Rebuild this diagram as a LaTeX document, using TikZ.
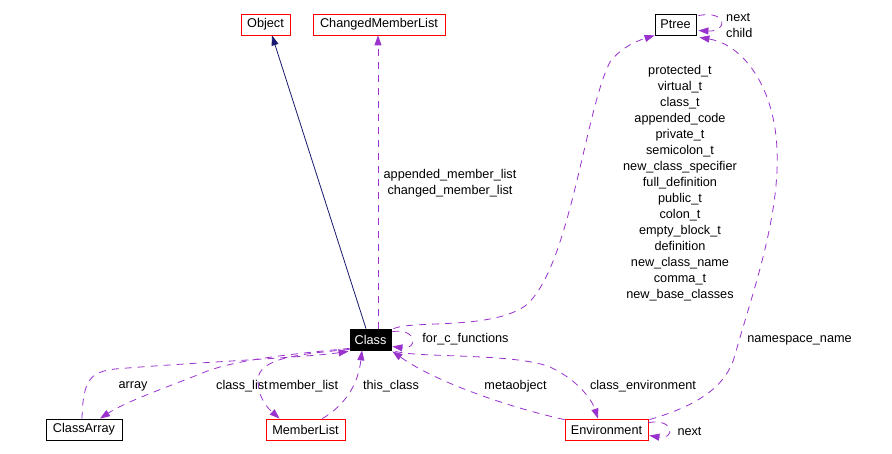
\documentclass[tikz,border=0pt]{standalone}
\usepackage{fontspec}
\setmainfont{Liberation Sans}
\usetikzlibrary{arrows.meta,calc}
\definecolor{edgepurple}{HTML}{9A32CD}
\definecolor{inhblue}{HTML}{191970}
\definecolor{boxred}{HTML}{FF0000}
\begin{document}
\begin{tikzpicture}[x=1pt,y=-1pt,
  every node/.style={font=\fontsize{12.7pt}{16pt}\selectfont, inner sep=0pt},
  box/.style={draw, line width=0.8pt, minimum height=21pt, align=center},
  redbox/.style={box, draw=boxred},
  blackbox/.style={box, draw=black},
  use/.style={draw=edgepurple, line width=0.8pt, dash pattern=on 7pt off 6pt, -{Triangle[length=10pt,width=7pt]}},
  inh/.style={draw=inhblue, line width=0.8pt, -{Triangle[length=10pt,width=7pt]}},
  lbl/.style={align=center, text=black}]
\fill[white] (0,0) rectangle (892,454);
\useasboundingbox (0,0) rectangle (892,454);

% nodes
\node[redbox, minimum width=49pt] (obj) at (265.5,24.5) {Object};
\node[redbox, minimum width=132pt] (cml) at (379,24.5) {ChangedMemberList};
\node[blackbox, minimum width=41pt] (ptree) at (675.5,24.5) {Ptree};
\node[box, draw=black, fill=black, text=white, minimum width=41pt] (cls) at (370.5,339.5) {Class};
\node[blackbox, minimum width=76pt] (carr) at (84,429.5) {ClassArray};
\node[redbox, minimum width=79pt] (ml) at (305.5,429.5) {MemberList};
\node[redbox, minimum width=83pt] (env) at (606.5,429.5) {Environment};

% inheritance
\draw[inh] ($(cls.north)+(-4.5,0)$) -- ($(obj.south)+(6.5,0)$);

% Class -> ChangedMemberList
\draw[use] ($(cls.north)+(7.5,0)$) -- ($(cml.south)+(-1,0)$);
\node[lbl] (lcml) at (450,183) {appended\_member\_list\\changed\_member\_list};

% Class -> Ptree
\draw[use] ($(cls.north east)+(2,0)$) .. controls (415,320) and (490,330) .. (525,306)
  .. controls (570,270) and (585,110) .. (610,62)
  .. controls (622,46) and (640,40) .. (ptree.south west);
\node[lbl] (lptree) at (680,183) {protected\_t\\virtual\_t\\class\_t\\appended\_code\\private\_t\\semicolon\_t\\new\_class\_specifier\\full\_definition\\public\_t\\colon\_t\\empty\_block\_t\\definition\\new\_class\_name\\comma\_t\\new\_base\_classes};

% Ptree self loop
\draw[use] ($(ptree.north east)+(2,2)$) .. controls (728,10) and (728,32) .. ($(ptree.east)+(2,6)$);
\node[lbl, align=left, anchor=west] (lnext) at (726,25) {next\\child};

% Environment -> Ptree
\draw[use] ($(env.north east)+(1,1)$) .. controls (700,405) and (727,385) .. (735,355)
  .. controls (750,300) and (780,220) .. (777,150)
  .. controls (775,90) and (745,45) .. ($(ptree.south east)+(3,2)$);
\node[lbl] (lns) at (799.5,340) {namespace\_name};

% Class self loop
\draw[use] ($(cls.north east)+(1,3)$) .. controls (418,328) and (418,350) .. ($(cls.east)+(1,7)$);
\node[lbl] (lfc) at (465.5,339) {for\_c\_functions};

% ClassArray -> Class
\draw[use] ($(carr.north)+(-2,0)$) .. controls (83,380) and (90,372) .. (115,369)
  .. controls (200,362) and (300,358) .. ($(cls.south west)+(-1,1)$);
% Class -> ClassArray
\draw[use] ($(cls.south west)+(0,-2)$) .. controls (290,354) and (235,360) .. (205,372)
  .. controls (165,388) and (125,402) .. ($(carr.north)+(16,0)$);
\node[lbl] (lar) at (133,386) {array};
\node[lbl] (lcl) at (242,386) {class\_list};

% Class -> MemberList
\draw[use] ($(cls.south west)+(0,-1)$) .. controls (300,354) and (258,358) .. (258,380)
  .. controls (258,400) and (270,410) .. ($(ml.north west)+(14,0)$);
\node[lbl] (lml) at (303.5,386) {member\_list};

% MemberList -> Class
\draw[use] ($(ml.north east)+(-23,0)$) .. controls (345,405) and (358,385) .. ($(cls.south)+(-8.5,0)$);
\node[lbl] (ltc) at (391,386) {this\_class};

% Environment -> Class
\draw[use] ($(env.north west)+(0,1)$) .. controls (520,410) and (440,385) .. ($(cls.south east)+(1,1)$);
\node[lbl] (lmo) at (515.5,386) {metaobject};

% Class -> Environment
\draw[use] ($(cls.south east)+(4,1)$) .. controls (420,358) and (515,353) .. (550,367)
  .. controls (578,380) and (592,400) .. ($(env.north)+(-8.5,0)$);
\node[lbl] (lce) at (643,386) {class\_environment};

% Environment self loop
\draw[use] ($(env.north east)+(0,4)$) .. controls (675,418) and (675,440) .. ($(env.east)+(1,6)$);
\node[lbl] (lenx) at (689.5,431) {next};
\end{tikzpicture}
\end{document}
